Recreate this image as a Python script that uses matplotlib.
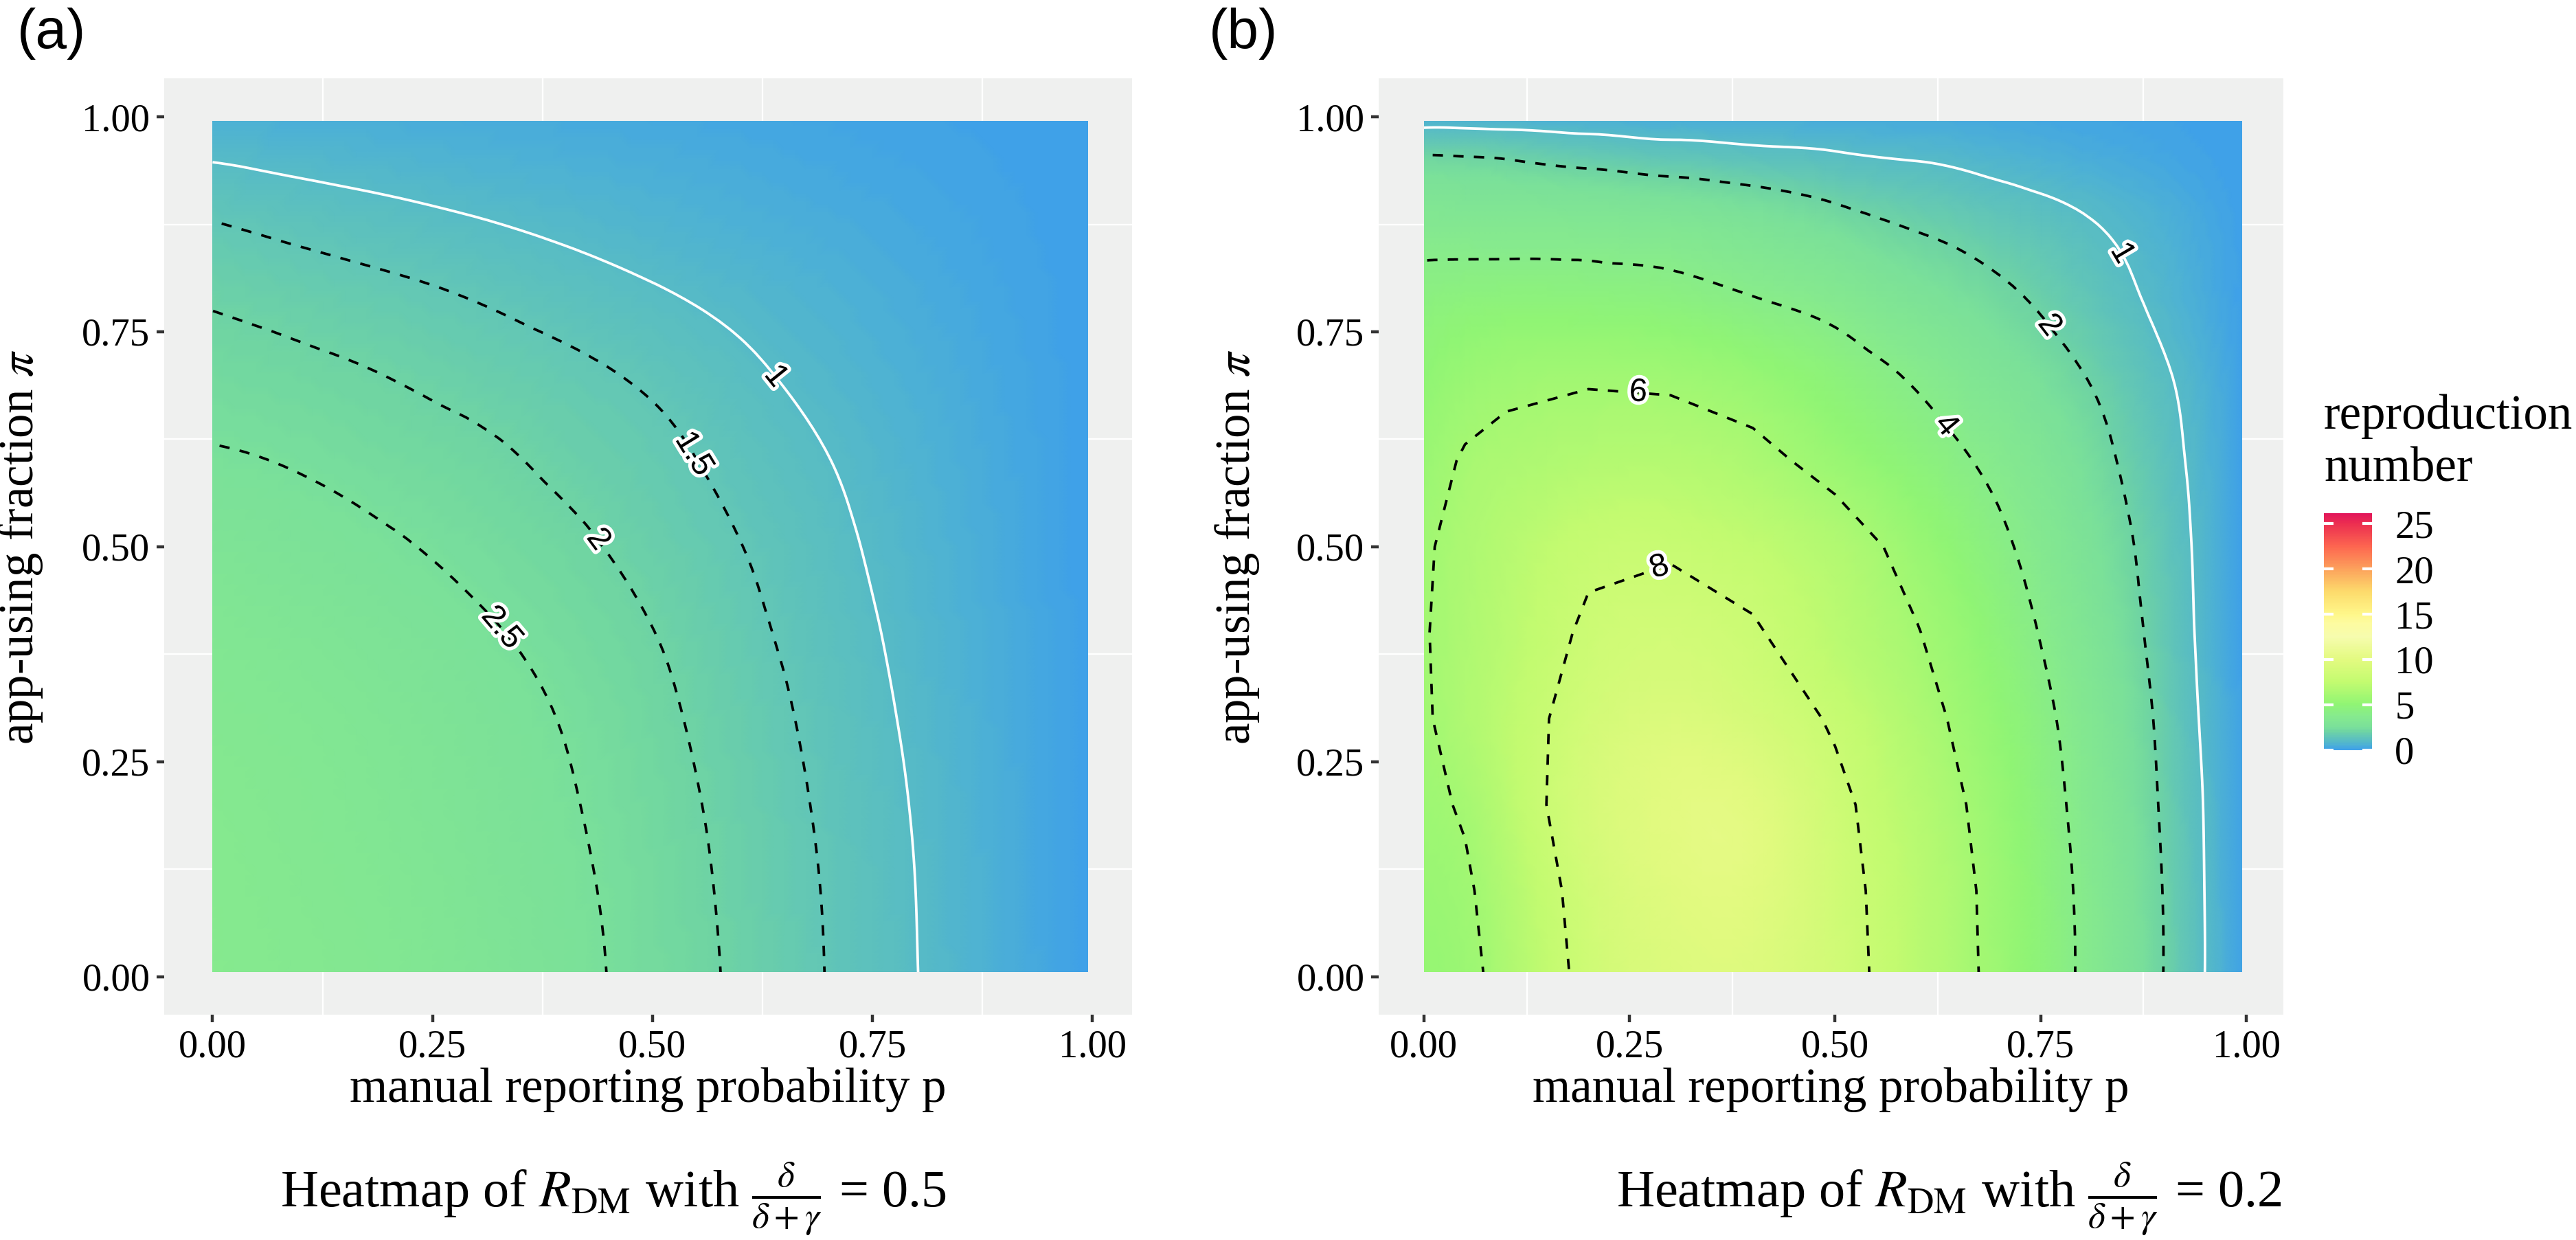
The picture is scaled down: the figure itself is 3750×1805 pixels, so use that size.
import numpy as np
import matplotlib
matplotlib.use("Agg")
from matplotlib import pyplot as plt
from matplotlib import patheffects
from matplotlib.colors import LinearSegmentedColormap, Normalize
from matplotlib.patches import Rectangle
from matplotlib.cm import ScalarMappable
from matplotlib.tri import Triangulation, UniformTriRefiner, CubicTriInterpolator

# ---------------- values ----------------
axis_ticks = [0.0, 0.25, 0.5, 0.75, 1.0]
axis_minor = [0.125, 0.375, 0.625, 0.875]
tick_labels = ["0.00", "0.25", "0.50", "0.75", "1.00"]

# panel (a): delta/(delta+gamma) = 0.5, rows are pi, columns are p
p_a = [0.0, 0.1, 0.2, 0.3, 0.4, 0.5, 0.6, 0.7, 0.8, 0.9, 1.0]
pi_a = [0.0, 0.1, 0.2, 0.3, 0.4, 0.5, 0.6, 0.7, 0.8, 0.9, 1.0]
r_a = [
    [3.70, 3.55, 3.33, 3.03, 2.68, 2.30, 1.91, 1.48, 1.01, 0.50, 0.00],
    [3.67, 3.47, 3.25, 2.96, 2.63, 2.27, 1.88, 1.46, 0.995, 0.49, 0.00],
    [3.59, 3.39, 3.15, 2.87, 2.56, 2.21, 1.83, 1.41, 0.96, 0.48, 0.00],
    [3.45, 3.28, 3.05, 2.78, 2.47, 2.13, 1.75, 1.34, 0.90, 0.45, 0.00],
    [3.25, 3.06, 2.84, 2.59, 2.31, 2.01, 1.64, 1.25, 0.83, 0.42, 0.00],
    [2.97, 2.77, 2.57, 2.35, 2.12, 1.83, 1.51, 1.14, 0.76, 0.38, 0.00],
    [2.57, 2.45, 2.28, 2.12, 1.89, 1.65, 1.34, 1.01, 0.67, 0.34, 0.00],
    [2.25, 2.13, 1.99, 1.82, 1.63, 1.41, 1.12, 0.82, 0.55, 0.28, 0.00],
    [1.90, 1.75, 1.60, 1.43, 1.23, 1.03, 0.82, 0.62, 0.41, 0.21, 0.00],
    [1.36, 1.19, 1.05, 0.91, 0.78, 0.65, 0.52, 0.39, 0.26, 0.13, 0.00],
    [0.55, 0.50, 0.45, 0.40, 0.35, 0.30, 0.24, 0.18, 0.12, 0.06, 0.00],
]
levels_a = [1.5, 2.0, 2.5]
subtitle_a = r"Heatmap of $R_{\mathrm{DM}}$ with $\frac{\delta}{\delta+\gamma}$ = 0.5"

# panel (b): delta/(delta+gamma) = 0.2
p_b = [0.0, 0.05, 0.1, 0.2, 0.3, 0.4, 0.5, 0.6, 0.7, 0.8, 0.9, 0.95, 1.0]
pi_b = [0.0, 0.1, 0.2, 0.3, 0.4, 0.5, 0.6, 0.7, 0.8, 0.9, 0.95, 1.0]
r_b = [
    [5.30, 5.60, 6.48, 8.45, 9.45, 9.55, 8.63, 7.12, 5.62, 3.85, 1.98, 0.99, 0.00],
    [5.50, 5.80, 6.67, 8.63, 9.80, 9.90, 8.54, 7.09, 5.57, 3.81, 1.96, 0.98, 0.00],
    [5.70, 6.13, 7.08, 8.96, 10.0, 9.90, 8.36, 6.91, 5.38, 3.67, 1.87, 0.95, 0.00],
    [5.85, 6.55, 7.26, 8.68, 9.40, 8.90, 7.83, 6.52, 5.08, 3.49, 1.76, 0.86, 0.00],
    [5.92, 6.50, 7.07, 8.22, 8.60, 8.15, 7.13, 6.06, 4.69, 3.19, 1.60, 0.79, 0.00],
    [5.85, 6.42, 6.90, 7.75, 7.85, 7.45, 6.70, 5.51, 4.23, 2.87, 1.49, 0.75, 0.00],
    [5.50, 6.13, 6.40, 6.75, 6.80, 6.40, 5.55, 4.64, 3.66, 2.51, 1.31, 0.69, 0.00],
    [5.00, 5.45, 5.70, 5.85, 5.75, 5.35, 4.64, 3.82, 2.92, 2.03, 1.09, 0.60, 0.00],
    [4.35, 4.45, 4.50, 4.45, 4.30, 3.88, 3.40, 2.70, 2.12, 1.47, 0.77, 0.40, 0.00],
    [3.10, 3.05, 3.00, 2.90, 2.70, 2.40, 1.99, 1.63, 1.27, 0.92, 0.50, 0.25, 0.00],
    [2.15, 2.10, 2.02, 1.75, 1.53, 1.34, 1.16, 0.98, 0.75, 0.50, 0.25, 0.12, 0.00],
    [0.55, 0.54, 0.52, 0.50, 0.47, 0.44, 0.40, 0.35, 0.30, 0.22, 0.12, 0.06, 0.00],
]
levels_b_smooth = [2, 4]
levels_b_coarse = [6, 8]
subtitle_b = r"Heatmap of $R_{\mathrm{DM}}$ with $\frac{\delta}{\delta+\gamma}$ = 0.2"

# shared colour scale
scale_max = 26.14
scale_values = [0.0, 0.5, 1.0, 1.5, 2.0, 2.5, 3.7, 5.0, 7.5, 10.0, 12.5, 14.0, 15.0,
                17.5, 20.0, 22.5, 25.0, 26.14]
scale_colours = ["#3FA1E8", "#4CB0D6", "#58BCC4", "#63C7B5", "#6FD4A3", "#7AE09A",
                 "#86EA8E", "#90F574", "#C3FB70", "#E3FA80", "#F6FCAE", "#FDFBA0",
                 "#FEF78A", "#FDDB6C", "#FCA25C", "#FD6650", "#EC2F50", "#E2165A"]
cbar_ticks = [0, 5, 10, 15, 20, 25]
legend_title = ["reproduction", "number"]

# ---------------- layout and style ----------------
W, H, DPI = 3750, 1805, 300
PANEL_BG = "#EFF0EF"
SERIF = ["Liberation Serif", "DejaVu Serif"]
SANS = ["Liberation Sans", "DejaVu Sans"]
LW = 0.9

plt.rcParams["font.family"] = SERIF
plt.rcParams["mathtext.fontset"] = "stix"
plt.rcParams["lines.dashed_pattern"] = [4, 4]


def fx(x):
    return x / W


def fy(y):
    return 1 - y / H


cmap = LinearSegmentedColormap.from_list(
    "repro", [(v / scale_max, c) for v, c in zip(scale_values, scale_colours)])
norm = Normalize(vmin=0, vmax=scale_max)

fig = plt.figure(figsize=(W / DPI, H / DPI), dpi=DPI, facecolor="white")


def smooth_field(p, pi, r):
    # let matplotlib's cubic tri-interpolator smooth the coarse grid for drawing
    pp, qq = np.meshgrid(p, pi)
    tri = Triangulation(pp.ravel(), qq.ravel())
    z = np.asarray(r, dtype=float).ravel()
    interp = CubicTriInterpolator(tri, z, kind="min_E")
    return UniformTriRefiner(tri).refine_field(z, triinterpolator=interp, subdiv=3)


def style_labels(texts):
    for t in texts:
        t.set_fontfamily(SANS)
        t.set_zorder(5)
        t.set_path_effects([patheffects.withStroke(linewidth=2.4, foreground="white")])


def setup_axes(rect):
    ax = fig.add_axes(rect)
    ax.set_facecolor(PANEL_BG)
    for s in ax.spines.values():
        s.set_visible(False)
    ax.set_axisbelow(True)
    ax.set_xlim(-0.055, 1.045)
    ax.set_ylim(-0.0445, 1.0445)
    ax.set_xticks(axis_ticks)
    ax.set_xticklabels(tick_labels)
    ax.set_yticks(axis_ticks)
    ax.set_yticklabels(tick_labels)
    ax.set_xticks(axis_minor, minor=True)
    ax.set_yticks(axis_minor, minor=True)
    ax.grid(which="major", color="white", linewidth=1.1)
    ax.grid(which="minor", color="white", linewidth=0.55)
    ax.tick_params(which="major", direction="out", length=2.75, width=1.07,
                   color="#333333", labelsize=13.6, labelcolor="black", pad=2.2)
    ax.tick_params(which="minor", length=0)
    return ax


def heatmap(ax, p, pi, r):
    clip = Rectangle((0.0, 0.005), 0.995, 0.99, transform=ax.transData)
    tri_s, z_s = smooth_field(p, pi, r)
    mesh = ax.tripcolor(tri_s, z_s, shading="gouraud", cmap=cmap, norm=norm, zorder=1)
    mesh.set_clip_path(clip)
    return clip, tri_s, z_s


fmt = lambda v: f"{v:g}"

# panel (a)
ax_a = setup_axes([fx(239), fy(1477.4), fx(1409), 1363 / H])
clip_a, tri_a, z_a = heatmap(ax_a, p_a, pi_a, r_a)
cs_w = ax_a.tricontour(tri_a, z_a, levels=[1], colors="white", linewidths=LW, zorder=3)
cs_d = ax_a.tricontour(tri_a, z_a, levels=levels_a, colors="black", linewidths=LW,
                       linestyles="dashed", zorder=3)
for cs in (cs_w, cs_d):
    cs.set_clip_path(clip_a)
style_labels(ax_a.clabel(cs_w, fmt=fmt, manual=[(0.641, 0.699)], inline=False,
                         fontsize=11.4, colors="black"))
style_labels(ax_a.clabel(cs_d, fmt=fmt, manual=[(0.539, 0.603), (0.439, 0.509), (0.330, 0.407)],
                         inline=False, fontsize=11.4, colors="black"))

# panel (b)
ax_b = setup_axes([fx(2007), fy(1477.4), fx(1317), 1363 / H])
clip_b, tri_b, z_b = heatmap(ax_b, p_b, pi_b, r_b)
cs_w = ax_b.tricontour(tri_b, z_b, levels=[1], colors="white", linewidths=LW, zorder=3)
cs_d = ax_b.tricontour(tri_b, z_b, levels=levels_b_smooth, colors="black", linewidths=LW,
                       linestyles="dashed", zorder=3)
cs_c = ax_b.contour(p_b, pi_b, r_b, levels=levels_b_coarse, colors="black", linewidths=LW,
                    linestyles="dashed", zorder=3)
for cs in (cs_w, cs_d, cs_c):
    cs.set_clip_path(clip_b)
style_labels(ax_b.clabel(cs_w, fmt=fmt, manual=[(0.843, 0.838)], inline=False,
                         fontsize=11.4, colors="black"))
style_labels(ax_b.clabel(cs_d, fmt=fmt, manual=[(0.764, 0.760), (0.636, 0.642)],
                         inline=False, fontsize=11.4, colors="black"))
style_labels(ax_b.clabel(cs_c, fmt=fmt, manual=[(0.260, 0.673), (0.289, 0.469)],
                         inline=False, fontsize=11.4, colors="black"))

# axis titles, subtitles, panel tags
for cx, ylab_x, tag_x, tag, sub, sub_x in [
        (943.5, 48, 25, "(a)", subtitle_a, 893),
        (2665.5, 1819, 1760, "(b)", subtitle_b, 2837)]:
    fig.text(fx(cx), fy(1604), "manual reporting probability p", ha="center",
             va="baseline", fontsize=17)
    fig.text(fx(ylab_x), fy(796), r"app-using fraction $\pi$", rotation=90,
             rotation_mode="anchor", ha="center", va="baseline", fontsize=17)
    fig.text(fx(tag_x), fy(70), tag, family=SANS, fontsize=19.7, va="baseline")
    fig.text(fx(sub_x), fy(1757), sub, ha="center", va="baseline", fontsize=18.3)

# colour bar legend
cax = fig.add_axes([fx(3383), fy(1091.7), fx(70), (1091.7 - 747.3) / H])
cb = fig.colorbar(ScalarMappable(norm=norm, cmap=cmap), cax=cax, ticks=cbar_ticks)
cb.outline.set_visible(False)
cax.tick_params(direction="in", color="white", length=3.3, width=1.0, left=True,
                right=True, labelleft=False, labelright=True, labelsize=13.6, pad=8)
fig.text(fx(3383), fy(624), legend_title[0], fontsize=17, va="baseline")
fig.text(fx(3383), fy(700), legend_title[1], fontsize=17, va="baseline")

fig.savefig("out.png", dpi=DPI, facecolor="white")
